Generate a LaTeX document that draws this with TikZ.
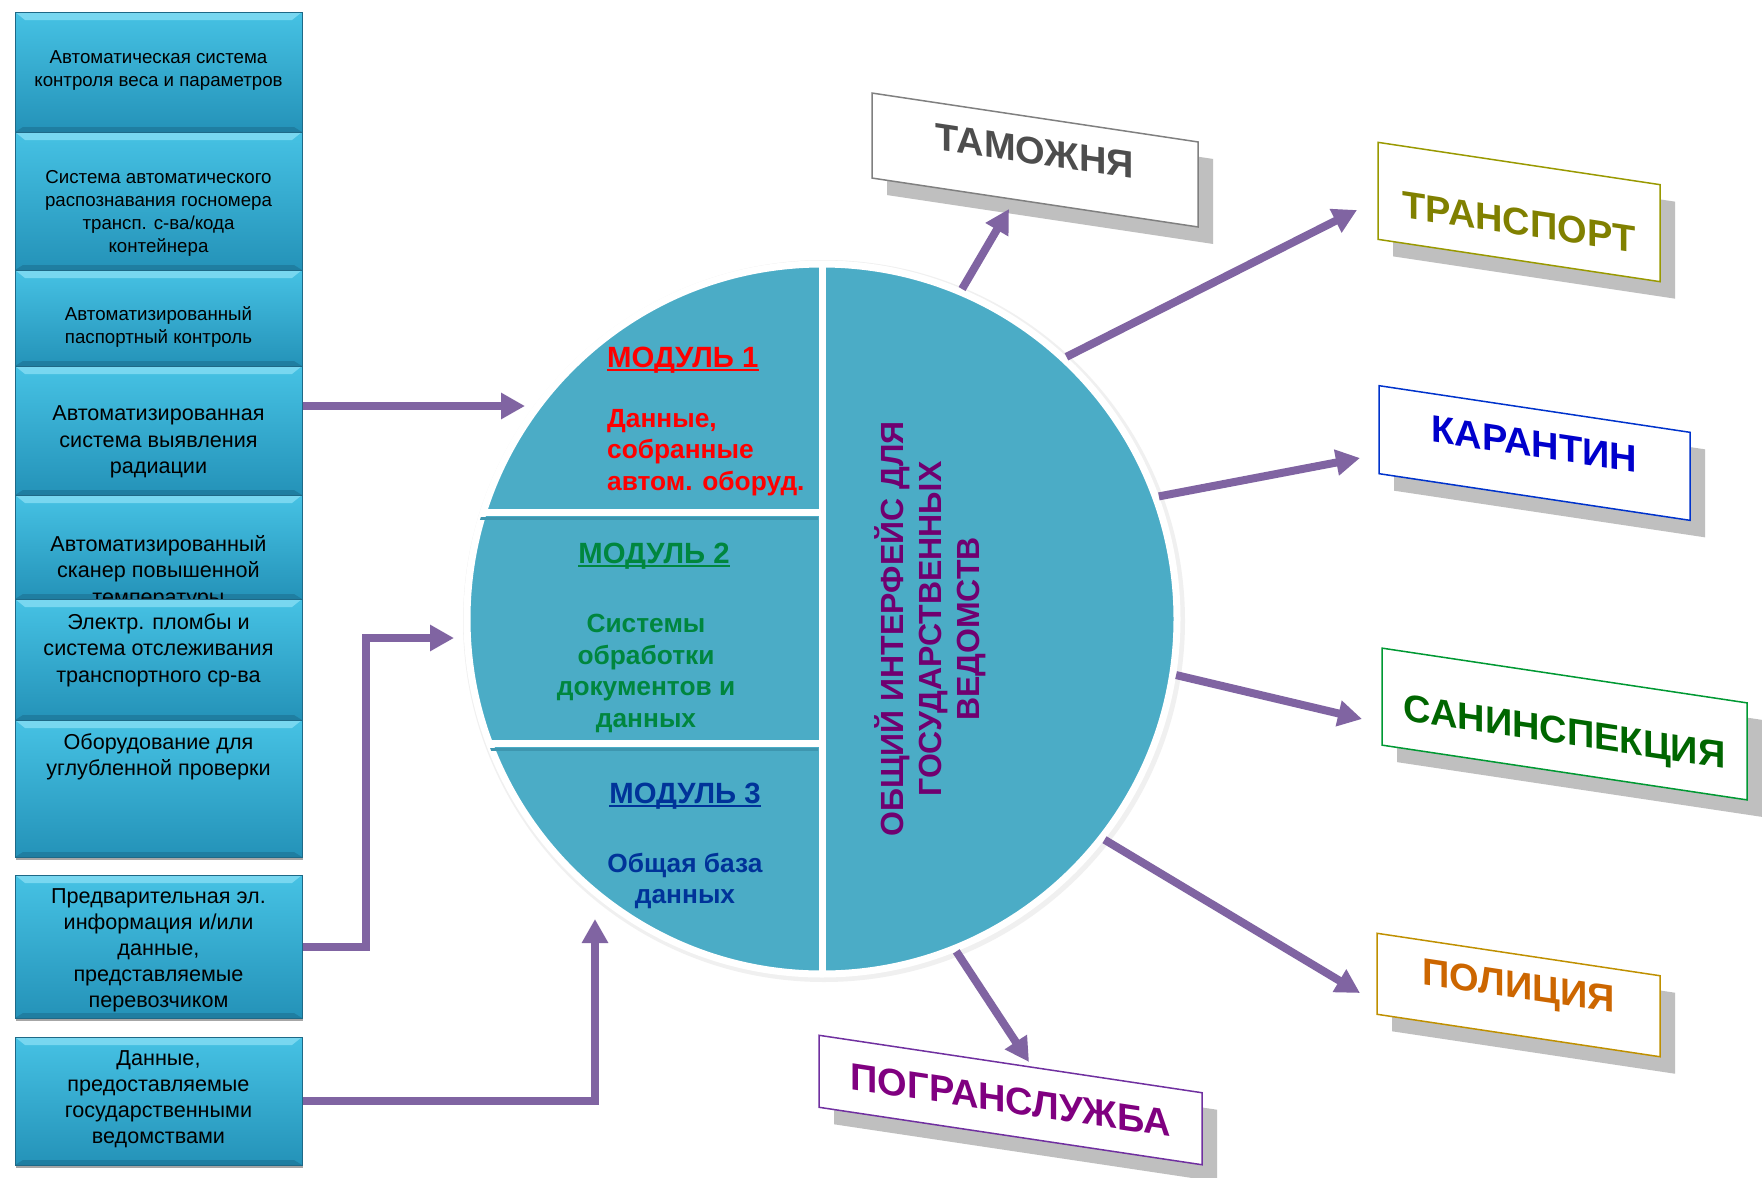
\documentclass[tikz,border=0pt]{standalone}
\usepackage{fontspec}
\setmainfont{Liberation Sans}
\usetikzlibrary{arrows.meta,shadows}
\definecolor{boxtop}{RGB}{70,194,228}
\definecolor{boxbot}{RGB}{36,146,184}
\definecolor{boxlight}{RGB}{120,215,240}
\definecolor{boxdark}{RGB}{28,112,145}
\definecolor{boxedge}{RGB}{30,105,135}
\definecolor{circfill}{RGB}{75,172,198}
\definecolor{circshade}{RGB}{62,150,175}
\definecolor{arrcol}{RGB}{128,100,162}
\definecolor{modred}{RGB}{255,0,0}
\definecolor{modgreen}{RGB}{0,134,62}
\definecolor{modblue}{RGB}{0,51,153}
\definecolor{ifacecol}{RGB}{112,0,112}
\definecolor{shgray}{RGB}{191,191,191}
\definecolor{cTam}{RGB}{128,128,128}
\definecolor{tTam}{RGB}{77,77,77}
\definecolor{cTra}{RGB}{153,153,0}
\definecolor{tTra}{RGB}{128,128,0}
\definecolor{cKar}{RGB}{0,51,204}
\definecolor{tKar}{RGB}{0,0,204}
\definecolor{cSan}{RGB}{0,153,51}
\definecolor{tSan}{RGB}{0,102,0}
\definecolor{cPol}{RGB}{191,144,0}
\definecolor{tPol}{RGB}{204,102,0}
\definecolor{cPog}{RGB}{112,48,160}
\definecolor{tPog}{RGB}{128,0,128}
\newcommand\myfs[2]{\fontsize{#1}{#2}\selectfont}

\begin{document}
\begin{tikzpicture}[x=1pt,y=-1pt,
  lbox/.style={rectangle, minimum width=287, inner sep=0, draw=boxedge, line width=1,
    top color=boxtop, bottom color=boxbot,
    drop shadow={shadow xshift=1pt, shadow yshift=-3pt, opacity=0.35, fill=black},
    path picture={
      \fill[boxlight] (path picture bounding box.north west) -- (path picture bounding box.north east)
        -- ([xshift=-10pt,yshift=-8pt]path picture bounding box.north east)
        -- ([xshift=10pt,yshift=-8pt]path picture bounding box.north west) -- cycle;
      \fill[boxdark, opacity=0.6] (path picture bounding box.south west) -- (path picture bounding box.south east)
        -- ([xshift=-8pt,yshift=5pt]path picture bounding box.south east)
        -- ([xshift=8pt,yshift=5pt]path picture bounding box.south west) -- cycle;
    }},
  ltext/.style={align=center, inner sep=0, text=black},
  fa/.style={font=\myfs{18.7}{23}},
  fb/.style={font=\myfs{21.6}{26.5}},
  fc/.style={font=\myfs{21.6}{26}},
  arr/.style={draw=arrcol, line width=8, -{Triangle[length=24pt,width=25pt]}},
  rbox/.style={draw, fill=white, line width=1.5, inner sep=0, yslant=-0.15},
  rshadow/.style={fill=shgray, inner sep=0, yslant=-0.15},
  rtext/.style={font=\bfseries\myfs{38}{44}, inner sep=0, yslant=-0.15},
  modtitle/.style={inner sep=0, font=\bfseries\myfs{29.3}{34}},
  modbody/.style={inner sep=0, font=\bfseries\myfs{26.3}{31.5}}
]
\useasboundingbox (0,0) rectangle (1762,1178);
\fill[white] (0,0) rectangle (1762,1178);

% ---------- left column ----------
\node[lbox, minimum height=120] (b1) at (158.5,72) {};
\node[ltext, fa] (t1) at (158.5,71) {Автоматическая система\\контроля веса и параметров};
\node[lbox, minimum height=138] (b2) at (158.5,201) {};
\node[ltext, fa] (t2) at (158.5,213) {Система автоматического\\распознавания госномера\\трансп. с-ва/кода\\контейнера};
\node[lbox, minimum height=96] (b3) at (158.5,318) {};
\node[ltext, fa] (t3) at (158.5,327) {Автоматизированный\\паспортный контроль};
\node[lbox, minimum height=129] (b4) at (158.5,430.5) {};
\node[ltext, fb] (t4) at (158.5,442) {Автоматизированная\\система выявления\\радиации};
\node[lbox, minimum height=104] (b5) at (158.5,547) {};
\node[ltext, fb] (t5) at (158.5,572) {Автоматизированный\\сканер повышенной\\температуры};
\node[lbox, minimum height=121] (b6) at (158.5,659.5) {};
\node[ltext, fb] (t6) at (158.5,650) {Электр. пломбы и\\система отслеживания\\транспортного ср-ва};
\node[lbox, minimum height=137] (b7) at (158.5,788.5) {};
\node[ltext, fb] (t7) at (158.5,757) {Оборудование для\\углубленной проверки};
\node[lbox, minimum height=143] (b8) at (158.5,946.5) {};
\node[ltext, fc] (t8) at (158.5,950) {Предварительная эл.\\информация и/или\\данные,\\представляемые\\перевозчиком};
\node[lbox, minimum height=128] (b9) at (158.5,1101) {};
\node[ltext, fc] (t9) at (158.5,1099) {Данные,\\предоставляемые\\государственными\\ведомствами};

% ---------- circle ----------
\fill[black!6] (824,621) circle[radius=361];
\node[circle, minimum size=710, inner sep=0, fill=circfill, draw=white, line width=7] (C) at (822,619) {};
\begin{scope}
  \clip (822,619) circle[radius=356];
  \draw[circshade, line width=3] (470,518) -- (818,518);
  \draw[circshade, line width=3] (470,749) -- (818,749);
  \draw[white, line width=7] (822,250) -- (822,990);
  \draw[white, line width=7] (470,512) -- (822,512);
  \draw[white, line width=7] (470,743) -- (822,743);
\end{scope}

% modules
\node[modtitle, text=modred, anchor=base west] (m1) at (607,367) {МОДУЛЬ 1};
\draw[modred, line width=2] ([yshift=-3pt]m1.base west) -- ([yshift=-3pt]m1.base east);
\node[modbody, text=modred, anchor=north west, align=left] (m1t) at (607,409) {Данные,\\собранные\\автом. оборуд.};

\node[modtitle, text=modgreen, anchor=base] (m2) at (654,563) {МОДУЛЬ 2};
\draw[modgreen, line width=2] ([yshift=-3pt]m2.base west) -- ([yshift=-3pt]m2.base east);
\node[modbody, text=modgreen, anchor=north, align=center] (m2t) at (646,614) {Системы\\обработки\\документов и\\данных};

\node[modtitle, text=modblue, anchor=base] (m3) at (685,803) {МОДУЛЬ 3};
\draw[modblue, line width=2] ([yshift=-3pt]m3.base west) -- ([yshift=-3pt]m3.base east);
\node[modbody, text=modblue, anchor=north, align=center] (m3t) at (685,853) {Общая база\\данных};

\node[rotate=90, align=center, inner sep=0, text=ifacecol, font=\bfseries\myfs{32}{38}] (iface) at (930,629)
  {ОБЩИЙ ИНТЕРФЕЙС ДЛЯ\\ГОСУДАРСТВЕННЫХ\\ВЕДОМСТВ};

% ---------- left arrows ----------
\coordinate (a1) at (525,406);
\coordinate (a2) at (454,638);
\coordinate (a3) at (595,919);
\draw[arr] (b4.east |- a1) -- (a1);
\draw[arr] (b8.east) -- ++(63,0) |- (a2);
\draw[arr] (b9.east) -| (a3);

% ---------- right boxes ----------
\begin{scope}[shift={(1035,160)}]
  \node[rshadow, minimum width=326, minimum height=85] (tamS) at (15,17) {};
  \node[rbox, draw=cTam, minimum width=326, minimum height=85] (tam) at (0,0) {};
  \node[rtext, text=tTam] (tamT) at (0,-9) {ТАМОЖНЯ};
\end{scope}
\begin{scope}[shift={(1519,212)}]
  \node[rshadow, minimum width=282, minimum height=97] (traS) at (15,17) {};
  \node[rbox, draw=cTra, minimum width=282, minimum height=97] (tra) at (0,0) {};
  \node[rtext, text=tTra] (traT) at (0,10) {ТРАНСПОРТ};
\end{scope}
\begin{scope}[shift={(1534.5,453)}]
  \node[rshadow, minimum width=311, minimum height=88] (karS) at (15,17) {};
  \node[rbox, draw=cKar, minimum width=311, minimum height=88] (kar) at (0,0) {};
  \node[rtext, text=tKar] (karT) at (0,-9) {КАРАНТИН};
\end{scope}
\begin{scope}[shift={(1564.5,724)}]
  \node[rshadow, minimum width=365, minimum height=97] (sanS) at (15,17) {};
  \node[rbox, draw=cSan, minimum width=365, minimum height=97] (san) at (0,0) {};
  \node[rtext, text=tSan] (sanT) at (0,11) {САНИНСПЕКЦИЯ};
\end{scope}
\begin{scope}[shift={(1518.5,995)}]
  \node[rshadow, minimum width=283, minimum height=81] (polS) at (15,17) {};
  \node[rbox, draw=cPol, minimum width=283, minimum height=81] (pol) at (0,0) {};
  \node[rtext, text=tPol] (polT) at (0,-6) {ПОЛИЦИЯ};
\end{scope}
\begin{scope}[shift={(1010.5,1100)}]
  \node[rshadow, minimum width=383, minimum height=72] (pogS) at (15,17) {};
  \node[rbox, draw=cPog, minimum width=383, minimum height=72] (pog) at (0,0) {};
  \node[rtext, text=tPog] (pogT) at (0,0) {ПОГРАНСЛУЖБА};
\end{scope}

% ---------- right arrows ----------
\coordinate (e1) at (1009,209);
\coordinate (e2) at (1357,210);
\coordinate (e3) at (1360,458);
\coordinate (e4) at (1362,719);
\coordinate (e5) at (1360,993);
\coordinate (e6) at (1029,1062);
\draw[arr] (C.67.5) -- (e1);
\draw[arr] (C.47.7) -- (e2);
\draw[arr] (C.20.6) -- (e3);
\draw[arr] (C.-9.3) -- (e4);
\draw[arr] (C.-38.4) -- (e5);
\draw[arr] (C.-68.2) -- (e6);
\end{tikzpicture}
\end{document}
